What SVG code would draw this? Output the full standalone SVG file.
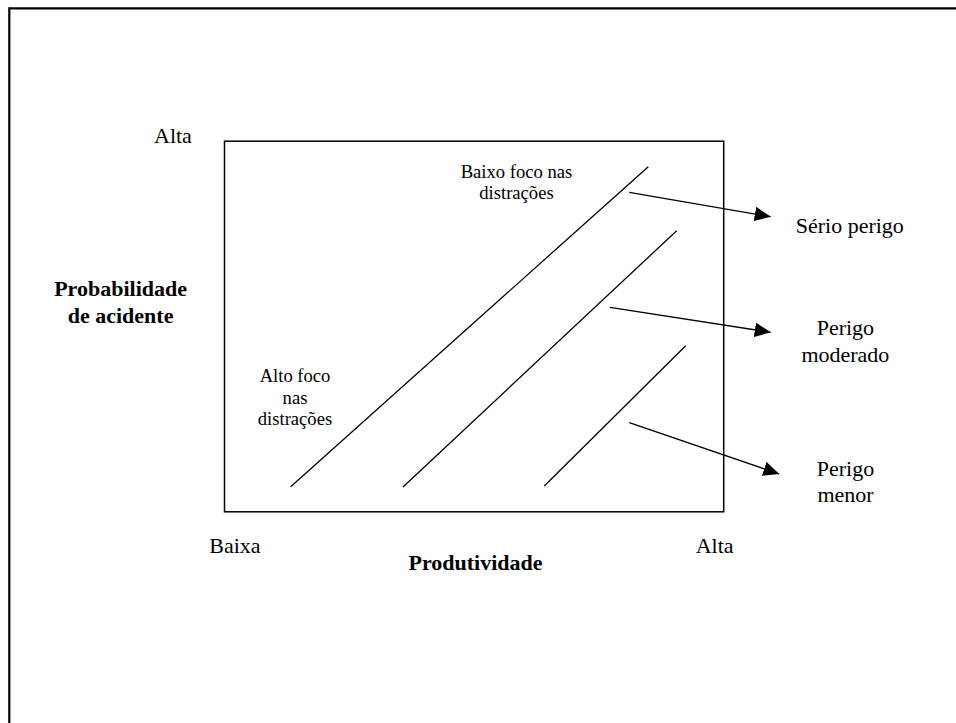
<svg xmlns="http://www.w3.org/2000/svg" width="956" height="723" viewBox="0 0 956 723">
<style>
.t{font-family:"Liberation Serif","Times New Roman",serif;font-size:22px;fill:#000}
.s{font-family:"Liberation Serif","Times New Roman",serif;font-size:18.6px;fill:#000}
.b{font-weight:bold}
.ln{stroke:#000;stroke-width:1.3;fill:none}
</style>
<defs>
<marker id="ah" markerUnits="userSpaceOnUse" markerWidth="17" markerHeight="15" refX="16" refY="7.3" orient="auto">
<path d="M0,0 L16,7.3 L0,14.6 z" fill="#000"/>
</marker>
</defs>
<rect width="956" height="723" fill="#fff"/>
<g id="frame">
<path d="M9.3,723 V8.3 H956" fill="none" stroke="#000" stroke-width="2.2"/>
</g>
<g id="chart">
<rect x="224.5" y="141.2" width="499.2" height="370.6" fill="none" stroke="#000" stroke-width="1.5"/>
</g>
<g id="zones">
<line class="ln" x1="290.7" y1="486.7" x2="648.3" y2="166.7"/>
<line class="ln" x1="403" y1="487" x2="676.7" y2="230.7"/>
<line class="ln" x1="544.3" y1="486" x2="685.7" y2="345.7"/>
</g>
<g id="connectors">
<line class="ln" x1="629.3" y1="192.3" x2="770.7" y2="216.7" marker-end="url(#ah)"/>
<line class="ln" x1="610" y1="307.3" x2="770.7" y2="332.3" marker-end="url(#ah)"/>
<line class="ln" x1="629.3" y1="422.7" x2="779.3" y2="474" marker-end="url(#ah)"/>
</g>
<g id="axis-labels">
<text class="t" x="154" y="143.3">Alta</text>
<text class="t b" text-anchor="middle" x="120.6" y="296">Probabilidade</text>
<text class="t b" text-anchor="middle" x="120.6" y="323">de acidente</text>
<text class="t" x="209.3" y="553">Baixa</text>
<text class="t" x="695.7" y="553">Alta</text>
<text class="t b" text-anchor="middle" x="475.5" y="570">Produtividade</text>
</g>
<g id="label-baixo">
<text class="s" text-anchor="middle" x="516.5" y="177.7">Baixo foco nas</text>
<text class="s" text-anchor="middle" x="516.5" y="199">distrações</text>
</g>
<g id="label-alto">
<text class="s" text-anchor="middle" x="295" y="381.7">Alto foco</text>
<text class="s" text-anchor="middle" x="295" y="404">nas</text>
<text class="s" text-anchor="middle" x="295" y="425">distrações</text>
</g>
<g id="serio">
<text class="t" x="795.7" y="233">Sério perigo</text>
</g>
<g id="moderado">
<text class="t" text-anchor="middle" x="845.4" y="335">Perigo</text>
<text class="t" text-anchor="middle" x="845.4" y="361.5">moderado</text>
</g>
<g id="menor">
<text class="t" text-anchor="middle" x="845.5" y="476">Perigo</text>
<text class="t" text-anchor="middle" x="845.5" y="501.7">menor</text>
</g>
</svg>
